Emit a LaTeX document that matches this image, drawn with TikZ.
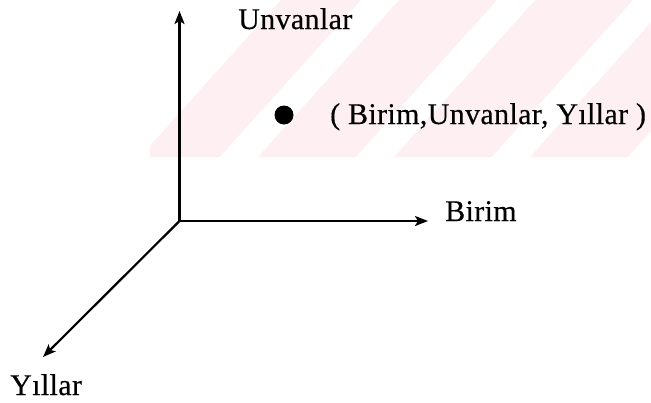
\documentclass[tikz,border=0pt]{standalone}
\usepackage{fontspec}
\setmainfont{Liberation Serif}[LetterSpace=1.2,FakeBold=0.4]
\usetikzlibrary{arrows.meta}
\definecolor{markpink}{RGB}{253,239,242}
\begin{document}
\begin{tikzpicture}[x=1pt,y=-1pt,
  axis/.style={line width=2.2pt, -{Stealth[length=13pt,width=10pt,inset=3pt]}},
  lbl/.style={inner sep=0pt, anchor=base west, font=\fontsize{30}{36}\selectfont},
  dot/.style={circle, fill=black, inner sep=0pt, minimum size=19pt}]
\useasboundingbox (0,0) rectangle (651,402);
\fill[white] (0,0) rectangle (651,402);
% faint diagonal stripes behind the upper part
\begin{scope}
  \clip (150,0) rectangle (651,157);
  \fill[markpink] (140,157) -- (281,0) -- (651,0) -- (651,157) -- cycle;
  \foreach \s in {227,363,499,635} {
    \fill[white] ({\s-7.2},157) -- ({\s-7.2+38},157)
                 -- ({\s+134.1+38},0) -- ({\s+134.1},0) -- cycle;
  }
\end{scope}
% axes
\coordinate (O) at (179.5,221);
\coordinate (ytip) at (179.5,11);
\coordinate (xtip) at (428,221);
\coordinate (ztip) at (43,357);
\draw[axis] (O) -- (ytip);
\draw[axis] (O) -- (xtip);
\draw[axis] (O) -- (ztip);
% axis labels
\node[lbl] (unv) at (238,29) {Unvanlar};
\node[lbl] (bir) at (445,221) {Birim};
\node[lbl] (yil) at (10,395) {Yıllar};
% the point and its coordinates
\node[dot] (pt) at (284,115) {};
\node[lbl] (ptlbl) at (330,124) {( Birim,Unvanlar, Yıllar )};
\end{tikzpicture}
\end{document}
